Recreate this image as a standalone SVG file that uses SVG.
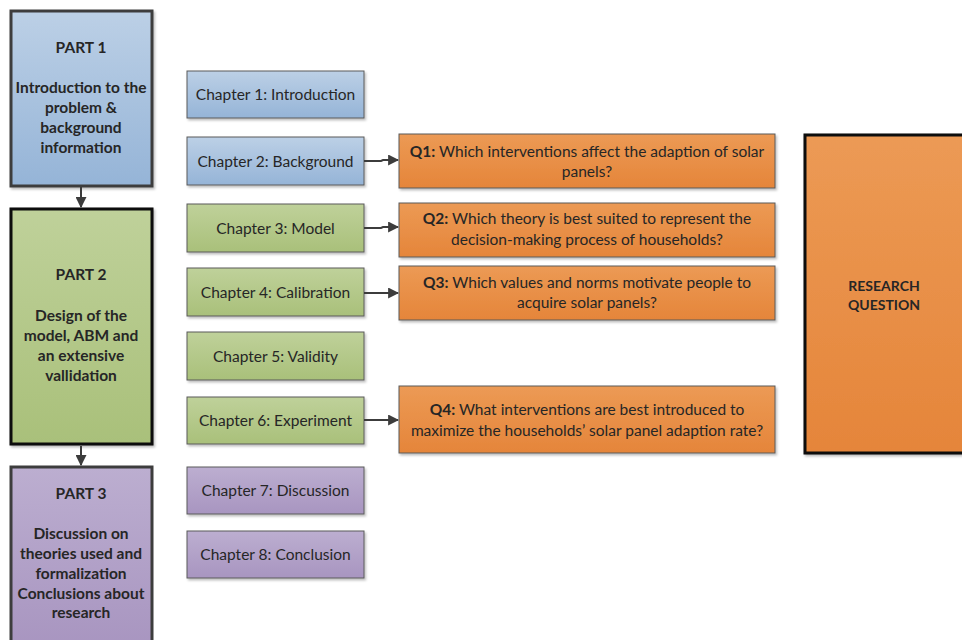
<svg xmlns="http://www.w3.org/2000/svg" width="962" height="640" viewBox="0 0 962 640">
  <style>
    text { font-family: Lato, "Open Sans", "Liberation Sans", sans-serif; fill: #262626; text-anchor: middle; }
    .part text { font-size: 15.5px; font-weight: bold; }
    .chap text { font-size: 15.5px; }
    .q text { font-size: 15.5px; }
    .q tspan.b { font-weight: bold; }
    .rq text { font-size: 14px; font-weight: bold; }
    .chap rect, .q rect { stroke: #5a5a5a; stroke-width: 1; filter: url(#shadow); }
    .part rect { stroke-width: 3; }
    .conn { stroke: #3c3c3c; stroke-width: 2; fill: none; marker-end: url(#arrow); }
  </style>
  <defs>
    <filter id="shadow" x="-10%" y="-10%" width="130%" height="140%">
      <feDropShadow dx="1.5" dy="2" stdDeviation="1.2" flood-color="#000" flood-opacity="0.25"/>
    </filter>
    <linearGradient id="blue" x1="0" y1="0" x2="0" y2="1">
      <stop offset="0" stop-color="#bcd0e6"/>
      <stop offset="1" stop-color="#95b4d7"/>
    </linearGradient>
    <linearGradient id="green" x1="0" y1="0" x2="0" y2="1">
      <stop offset="0" stop-color="#bfd19a"/>
      <stop offset="1" stop-color="#a9c07a"/>
    </linearGradient>
    <linearGradient id="purple" x1="0" y1="0" x2="0" y2="1">
      <stop offset="0" stop-color="#bcaed0"/>
      <stop offset="1" stop-color="#a895c0"/>
    </linearGradient>
    <linearGradient id="orange" x1="0" y1="0" x2="0" y2="1">
      <stop offset="0" stop-color="#ec9a55"/>
      <stop offset="1" stop-color="#e5853a"/>
    </linearGradient>
    <marker id="arrow" viewBox="0 0 10 10" refX="9" refY="5" markerWidth="5.5" markerHeight="5.5" orient="auto" markerUnits="strokeWidth">
      <path d="M0,0 L10,5 L0,10 z" fill="#3c3c3c"/>
    </marker>
  </defs>

  <!-- Parts -->
  <g id="part1" class="part">
    <rect x="11" y="11" width="141" height="175" fill="url(#blue)" stroke="#3d3d3d" filter="url(#shadow)"/>
    <text x="81" y="53">PART 1</text>
    <text x="81" y="93">Introduction to the</text>
    <text x="81" y="113">problem &amp;</text>
    <text x="81" y="133">background</text>
    <text x="81" y="153">information</text>
  </g>
  <g id="part2" class="part">
    <rect x="11" y="209" width="141" height="235" fill="url(#green)" stroke="#0d0d0d" stroke-width="3.5" filter="url(#shadow)"/>
    <text x="81" y="280">PART 2</text>
    <text x="81" y="321">Design of the</text>
    <text x="81" y="341">model, ABM and</text>
    <text x="81" y="361">an extensive</text>
    <text x="81" y="381">vallidation</text>
  </g>
  <g id="part3" class="part">
    <rect x="11" y="467" width="141" height="180" fill="url(#purple)" stroke="#3d3d3d"/>
    <text x="81" y="499">PART 3</text>
    <text x="81" y="539">Discussion on</text>
    <text x="81" y="559">theories used and</text>
    <text x="81" y="579">formalization</text>
    <text x="81" y="599">Conclusions about</text>
    <text x="81" y="618">research</text>
  </g>

  <!-- Chapters -->
  <g id="ch1" class="chap">
    <rect x="187" y="71" width="177" height="47" fill="url(#blue)"/>
    <text x="275.5" y="100">Chapter 1: Introduction</text>
  </g>
  <g id="ch2" class="chap">
    <rect x="187" y="137" width="177" height="48" fill="url(#blue)"/>
    <text x="275.5" y="167">Chapter 2: Background</text>
  </g>
  <g id="ch3" class="chap">
    <rect x="187" y="204" width="177" height="48" fill="url(#green)"/>
    <text x="275.5" y="234">Chapter 3: Model</text>
  </g>
  <g id="ch4" class="chap">
    <rect x="187" y="268" width="177" height="48" fill="url(#green)"/>
    <text x="275.5" y="298">Chapter 4: Calibration</text>
  </g>
  <g id="ch5" class="chap">
    <rect x="187" y="332" width="177" height="48" fill="url(#green)"/>
    <text x="275.5" y="362">Chapter 5: Validity</text>
  </g>
  <g id="ch6" class="chap">
    <rect x="187" y="397" width="177" height="47" fill="url(#green)"/>
    <text x="275.5" y="426">Chapter 6: Experiment</text>
  </g>
  <g id="ch7" class="chap">
    <rect x="187" y="467" width="177" height="47" fill="url(#purple)"/>
    <text x="275.5" y="496">Chapter 7: Discussion</text>
  </g>
  <g id="ch8" class="chap">
    <rect x="187" y="531" width="177" height="47" fill="url(#purple)"/>
    <text x="275.5" y="560">Chapter 8: Conclusion</text>
  </g>

  <!-- Sub-questions -->
  <g id="q1" class="q">
    <rect x="399" y="134" width="376" height="54" fill="url(#orange)"/>
    <text x="587" y="157"><tspan class="b">Q1:</tspan> Which interventions affect the adaption of solar</text>
    <text x="587" y="177">panels?</text>
  </g>
  <g id="q2" class="q">
    <rect x="399" y="203" width="376" height="54" fill="url(#orange)"/>
    <text x="587" y="224"><tspan class="b">Q2:</tspan> Which theory is best suited to represent the</text>
    <text x="587" y="245">decision-making process of households?</text>
  </g>
  <g id="q3" class="q">
    <rect x="399" y="266" width="376" height="54" fill="url(#orange)"/>
    <text x="587" y="288"><tspan class="b">Q3:</tspan> Which values and norms motivate people to</text>
    <text x="587" y="308">acquire solar panels?</text>
  </g>
  <g id="q4" class="q">
    <rect x="399" y="386" width="376" height="67" fill="url(#orange)"/>
    <text x="587" y="415"><tspan class="b">Q4:</tspan> What interventions are best introduced to</text>
    <text x="587" y="436">maximize the households’ solar panel adaption rate?</text>
  </g>

  <!-- Main research question -->
  <g id="rq" class="rq">
    <rect x="805" y="135" width="160" height="318" fill="url(#orange)" stroke="#0d0d0d" stroke-width="3" filter="url(#shadow)"/>
    <text x="884" y="291">RESEARCH</text>
    <text x="884" y="310">QUESTION</text>
  </g>

  <!-- Connectors -->
  <g id="connectors">
    <path class="conn" d="M81,187 V207"/>
    <path class="conn" d="M81,446 V465"/>
    <path class="conn" d="M364,161 H381 L383,160 H398"/>
    <path class="conn" d="M364,228 H381 L383,227 H398"/>
    <path class="conn" d="M364,293 H398"/>
    <path class="conn" d="M364,420 H398"/>
  </g>
</svg>
